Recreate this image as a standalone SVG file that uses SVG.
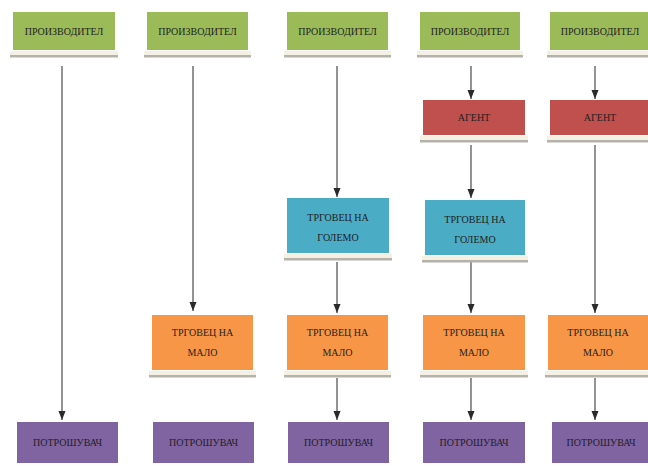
<svg xmlns="http://www.w3.org/2000/svg" width="648" height="465" viewBox="0 0 648 465">
<defs>
<style>
.t{font-family:"Liberation Serif","Times New Roman",serif;font-size:10px;fill:#1e1e1e;text-anchor:middle}
.g{fill:#9bbb59}
.r{fill:#c0504d}
.b{fill:#4bacc6}
.o{fill:#f79646}
.p{fill:#8064a2}
.sh{fill:#b4b2aa}
.gl{fill:#f4f1e4}
.c{stroke:#4a4a4a;stroke-width:1.2;fill:none;marker-end:url(#ah)}
</style>
<marker id="ah" markerWidth="9" markerHeight="8" refX="9" refY="4" orient="auto" markerUnits="userSpaceOnUse" viewBox="0 0 9 8">
<path d="M0,0.5 L9,4 L0,7.5 Z" fill="#2a2a2a"/>
</marker>
</defs>
<rect width="648" height="465" fill="#ffffff"/>

<g id="connectors">
<line class="c" x1="62" y1="66" x2="62" y2="420"/>
<line class="c" x1="193" y1="66" x2="193" y2="311"/>
<line class="c" x1="337" y1="66" x2="337" y2="197"/>
<line class="c" x1="337" y1="262" x2="337" y2="313"/>
<line class="c" x1="337" y1="378" x2="337" y2="420"/>
<line class="c" x1="471" y1="66" x2="471" y2="99"/>
<line class="c" x1="471" y1="145" x2="471" y2="198"/>
<line class="c" x1="471" y1="262" x2="471" y2="313"/>
<line class="c" x1="471" y1="378" x2="471" y2="420"/>
<line class="c" x1="595" y1="66" x2="595" y2="99"/>
<line class="c" x1="595" y1="145" x2="595" y2="313"/>
<line class="c" x1="595" y1="378" x2="595" y2="420"/>
</g>

<!-- Row 1: producers -->
<g id="prod1"><rect class="gl" x="10" y="51" width="108" height="6"/><rect class="sh" x="10" y="55" width="108" height="2.5"/><rect class="g" x="13" y="12" width="102" height="38"/><text class="t" x="64" y="35">ПРОИЗВОДИТЕЛ</text></g>
<g id="prod2"><rect class="gl" x="144" y="51" width="107" height="6"/><rect class="sh" x="144" y="55" width="107" height="2.5"/><rect class="g" x="147" y="12" width="101" height="38"/><text class="t" x="197.5" y="35">ПРОИЗВОДИТЕЛ</text></g>
<g id="prod3"><rect class="gl" x="284" y="51" width="107" height="6"/><rect class="sh" x="284" y="55" width="107" height="2.5"/><rect class="g" x="287" y="12" width="101" height="38"/><text class="t" x="337.5" y="35">ПРОИЗВОДИТЕЛ</text></g>
<g id="prod4"><rect class="gl" x="417" y="51" width="106" height="6"/><rect class="sh" x="417" y="55" width="106" height="2.5"/><rect class="g" x="420" y="12" width="100" height="38"/><text class="t" x="470" y="35">ПРОИЗВОДИТЕЛ</text></g>
<g id="prod5"><rect class="gl" x="547" y="51" width="106" height="6"/><rect class="sh" x="547" y="55" width="106" height="2.5"/><rect class="g" x="550" y="12" width="100" height="38"/><text class="t" x="600" y="35">ПРОИЗВОДИТЕЛ</text></g>

<!-- Agents -->
<g id="agent4"><rect class="gl" x="420" y="136" width="108" height="6"/><rect class="sh" x="420" y="140" width="108" height="2.5"/><rect class="r" x="423" y="100" width="102" height="35"/><text class="t" x="474" y="121">АГЕНТ</text></g>
<g id="agent5"><rect class="gl" x="547" y="136" width="106" height="6"/><rect class="sh" x="547" y="140" width="106" height="2.5"/><rect class="r" x="550" y="100" width="100" height="35"/><text class="t" x="600" y="121">АГЕНТ</text></g>

<!-- Wholesalers -->
<g id="whole3"><rect class="gl" x="284" y="254" width="108" height="6"/><rect class="sh" x="284" y="258" width="108" height="2.5"/><rect class="b" x="287" y="198" width="102" height="55"/><text class="t" x="338" y="221">ТРГОВЕЦ НА</text><text class="t" x="338" y="241">ГОЛЕМО</text></g>
<g id="whole4"><rect class="gl" x="422" y="256" width="106" height="6"/><rect class="sh" x="422" y="260" width="106" height="2.5"/><rect class="b" x="425" y="200" width="100" height="55"/><text class="t" x="475" y="223">ТРГОВЕЦ НА</text><text class="t" x="475" y="243">ГОЛЕМО</text></g>

<!-- Retailers -->
<g id="retail2"><rect class="gl" x="149" y="371" width="107" height="6"/><rect class="sh" x="149" y="375" width="107" height="2.5"/><rect class="o" x="152" y="315" width="101" height="55"/><text class="t" x="202.5" y="336">ТРГОВЕЦ НА</text><text class="t" x="202.5" y="356">МАЛО</text></g>
<g id="retail3"><rect class="gl" x="284" y="371" width="107" height="6"/><rect class="sh" x="284" y="375" width="107" height="2.5"/><rect class="o" x="287" y="315" width="101" height="55"/><text class="t" x="337.5" y="336">ТРГОВЕЦ НА</text><text class="t" x="337.5" y="356">МАЛО</text></g>
<g id="retail4"><rect class="gl" x="420" y="371" width="108" height="6"/><rect class="sh" x="420" y="375" width="108" height="2.5"/><rect class="o" x="423" y="315" width="102" height="55"/><text class="t" x="474" y="336">ТРГОВЕЦ НА</text><text class="t" x="474" y="356">МАЛО</text></g>
<g id="retail5"><rect class="gl" x="545" y="371" width="106" height="6"/><rect class="sh" x="545" y="375" width="106" height="2.5"/><rect class="o" x="548" y="315" width="100" height="55"/><text class="t" x="598" y="336">ТРГОВЕЦ НА</text><text class="t" x="598" y="356">МАЛО</text></g>

<!-- Consumers -->
<g id="cons1"><rect class="p" x="17" y="422" width="101" height="41"/><text class="t" x="67.5" y="446">ПОТРОШУВАЧ</text></g>
<g id="cons2"><rect class="p" x="153" y="422" width="101" height="41"/><text class="t" x="203.5" y="446">ПОТРОШУВАЧ</text></g>
<g id="cons3"><rect class="p" x="288" y="422" width="101" height="41"/><text class="t" x="338.5" y="446">ПОТРОШУВАЧ</text></g>
<g id="cons4"><rect class="p" x="423" y="422" width="102" height="41"/><text class="t" x="474" y="446">ПОТРОШУВАЧ</text></g>
<g id="cons5"><rect class="p" x="552" y="422" width="98" height="41"/><text class="t" x="601" y="446">ПОТРОШУВАЧ</text></g>
</svg>
